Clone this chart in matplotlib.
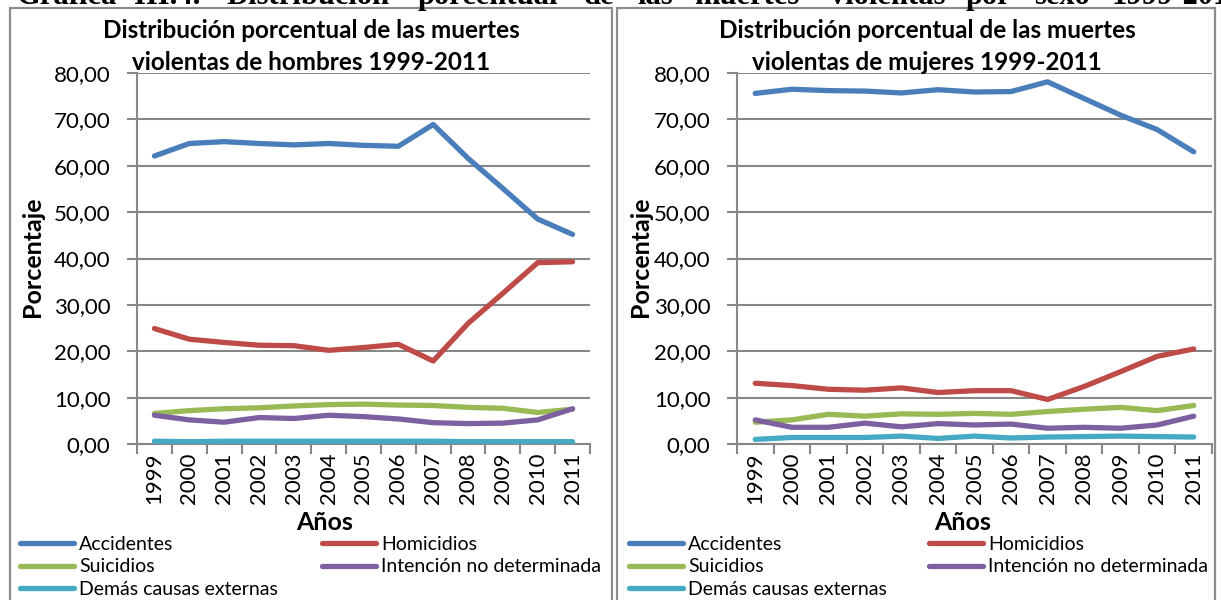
import matplotlib
matplotlib.use("Agg")
import matplotlib.pyplot as plt
from matplotlib.lines import Line2D
from matplotlib.patches import Rectangle
from matplotlib.ticker import FuncFormatter, MultipleLocator

plt.rcParams['font.family'] = ['Lato', 'DejaVu Sans']

years = [str(y) for y in range(1999, 2012)]
series_names = ["Accidentes", "Homicidios", "Suicidios",
                "Intención no determinada", "Demás causas externas"]
colors = ["#4A7EBB", "#BE4B48", "#98B954", "#7D60A0", "#46AAC5"]

# hombres
h_accidentes = [62.1, 64.8, 65.2, 64.8, 64.5, 64.8, 64.4, 64.2, 68.9, 61.6, 55.1, 48.5, 45.2]
h_homicidios = [24.9, 22.6, 21.9, 21.3, 21.2, 20.2, 20.8, 21.5, 17.9, 26.0, 32.5, 39.1, 39.3]
h_suicidios = [6.6, 7.2, 7.6, 7.8, 8.2, 8.5, 8.6, 8.4, 8.3, 7.9, 7.7, 6.8, 7.5]
h_intencion = [6.2, 5.2, 4.7, 5.7, 5.5, 6.2, 5.9, 5.4, 4.6, 4.4, 4.5, 5.2, 7.6]
h_demas = [0.6, 0.5, 0.6, 0.6, 0.6, 0.6, 0.6, 0.6, 0.6, 0.5, 0.5, 0.5, 0.5]

# mujeres
m_accidentes = [75.6, 76.5, 76.2, 76.1, 75.7, 76.4, 75.9, 76.0, 78.1, 74.5, 70.9, 67.8, 63.0]
m_homicidios = [13.1, 12.6, 11.8, 11.6, 12.1, 11.1, 11.5, 11.5, 9.6, 12.4, 15.6, 18.9, 20.5]
m_suicidios = [4.7, 5.2, 6.4, 6.0, 6.5, 6.4, 6.6, 6.4, 7.0, 7.5, 7.9, 7.2, 8.3]
m_intencion = [5.2, 3.6, 3.6, 4.5, 3.7, 4.4, 4.1, 4.3, 3.4, 3.6, 3.4, 4.1, 6.0]
m_demas = [1.0, 1.4, 1.4, 1.4, 1.7, 1.2, 1.7, 1.3, 1.5, 1.6, 1.7, 1.6, 1.5]

W, H = 1221, 600
fig = plt.figure(figsize=(W / 100, H / 100), dpi=100)
GRID = "#878787"


def fx(x):
    return x / W


def fy(y):
    return 1 - y / H


# panel frames
fig.add_artist(Rectangle((fx(10), fy(640)), fx(602), fy(8) - fy(640), fill=False,
                         edgecolor="#8C8C8C", lw=1.6, transform=fig.transFigure))
fig.add_artist(Rectangle((fx(617), fy(640)), fx(598), fy(8) - fy(640), fill=False,
                         edgecolor="#8C8C8C", lw=1.6, transform=fig.transFigure))

# header cut at the top of the page
header_words = [("Gráfica", 16), ("III.4.", 134), ("Distribución", 226), ("porcentual", 418),
                ("de", 584), ("las", 637), ("muertes", 694), ("violentas", 830),
                ("por", 966), ("sexo", 1034), ("1999-2011", 1112)]
for w, x in header_words:
    fig.text(fx(x), fy(4), w, family="Liberation Serif", weight="bold", fontsize=22,
             va="baseline", ha="left")


def panel(left, right, data, title, title_x, ylab_x, xlab_x, leg1_x, leg2_x):
    ax = fig.add_axes([fx(left), fy(444), fx(right) - fx(left), fy(73) - fy(444)])
    x = list(range(len(years)))
    for vals, c in zip(data, colors):
        ax.plot(x, vals, color=c, lw=3.8, solid_capstyle="round",
                solid_joinstyle="round", zorder=3)
    ax.set_xlim(-0.5, len(years) - 0.5)
    ax.set_ylim(0, 80)
    ax.yaxis.set_major_locator(MultipleLocator(10))
    ax.yaxis.set_major_formatter(FuncFormatter(lambda v, p: f"{v:.2f}".replace(".", ",")))
    ax.set_xticks(x)
    ax.set_xticklabels(years, rotation=90, fontsize=16)
    ax.set_xticks([i - 0.5 for i in range(len(years) + 1)], minor=True)
    ax.tick_params(axis="x", which="major", length=0, pad=6)
    ax.tick_params(axis="x", which="minor", length=7, width=1.5, color=GRID, direction="out")
    ax.tick_params(axis="y", length=7, width=1.5, color=GRID, labelsize=16, pad=12)
    ax.grid(axis="y", color=GRID, lw=1.5, zorder=0)
    ax.set_axisbelow(True)
    for s in ["top", "right"]:
        ax.spines[s].set_visible(False)
    for s in ["left", "bottom"]:
        ax.spines[s].set_color(GRID)
        ax.spines[s].set_linewidth(1.5)

    t1, t2 = title.split("\n")
    fig.text(fx(title_x), fy(30), t1, ha="center", va="center", fontsize=17.5, weight="bold")
    fig.text(fx(title_x), fy(62), t2, ha="center", va="center", fontsize=17.5, weight="bold")
    fig.text(fx(ylab_x), fy(257), "Porcentaje", rotation=90, ha="center", va="center",
             fontsize=18, weight="bold")
    fig.text(fx(xlab_x), fy(523), "Años", ha="center", va="center",
             fontsize=18, weight="bold")

    kw = dict(frameon=False, fontsize=14, handlelength=2.8, handletextpad=0.25,
              labelspacing=0.28, borderpad=0, borderaxespad=0, loc="upper left")
    hnd = [Line2D([], [], color=c, lw=3.8, solid_capstyle="round") for c in colors]
    fig.legend([hnd[0], hnd[2], hnd[4]], [series_names[0], series_names[2], series_names[4]],
               bbox_to_anchor=(fx(leg1_x), fy(536)), **kw)
    fig.legend([hnd[1], hnd[3]], [series_names[1], series_names[3]],
               bbox_to_anchor=(fx(leg2_x), fy(536)), **kw)
    return ax


panel(137, 590, [h_accidentes, h_homicidios, h_suicidios, h_intencion, h_demas],
      "Distribución porcentual de las muertes\nviolentas de hombres 1999-2011",
      311, 33, 325, 20, 322)
panel(737, 1212, [m_accidentes, m_homicidios, m_suicidios, m_intencion, m_demas],
      "Distribución porcentual de las muertes\nviolentas de mujeres 1999-2011",
      927, 640, 963, 629, 929)

fig.savefig("out.png", dpi=100)
